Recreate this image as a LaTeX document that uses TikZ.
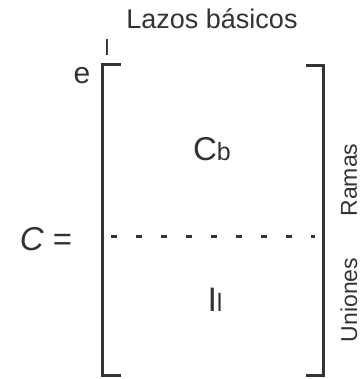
\documentclass[tikz,border=0pt]{standalone}
\usepackage{fontspec}
\setmainfont{Liberation Sans}
\begin{document}
\begin{tikzpicture}[x=1pt,y=-1pt,
  txt/.style={inner sep=0pt, text=black!80},
  brk/.style={line width=3pt, black!80},
  dots/.style={line width=3pt, black!80, dash pattern=on 6pt off 19pt}]
\useasboundingbox (0,0) rectangle (363,379);
\node[txt, font=\fontsize{27}{30}\selectfont] (lazos) at (212,19) {Lazos\ básicos};
\node[txt, font=\fontsize{30}{34}\selectfont] (e) at (82,76) {e};
\node[txt, font=\fontsize{22}{26}\selectfont] (l) at (107,48) {l};
\node[txt, font=\fontsize{33}{36}\selectfont] (ceq) at (46,239) {\textit{C} =};
\node[txt, font=\fontsize{33}{36}\selectfont] (cb) at (212,149) {C\fontsize{25}{28}\selectfont b};
\node[txt, font=\fontsize{34}{36}\selectfont] (il) at (215,300) {I\fontsize{25}{28}\selectfont l};
\node[txt, font=\fontsize{23}{26}\selectfont, rotate=90] (ramas) at (349,180) {Ramas};
\node[txt, font=\fontsize{23}{26}\selectfont, rotate=90] (uniones) at (349,300) {Uniones};
\coordinate (lt) at (121,65);
\coordinate (lb) at (121,375);
\coordinate (rt) at (306,66);
\coordinate (rb) at (306,375);
\draw[brk] (lt) -- (102,65) -- (102,375) -- (lb);
\draw[brk] (rt) -- (323,66) -- (323,375) -- (rb);
\coordinate (d1) at (111,236);
\coordinate (d2) at (315,236);
\draw[dots] (d1) -- (d2);
\end{tikzpicture}
\end{document}
